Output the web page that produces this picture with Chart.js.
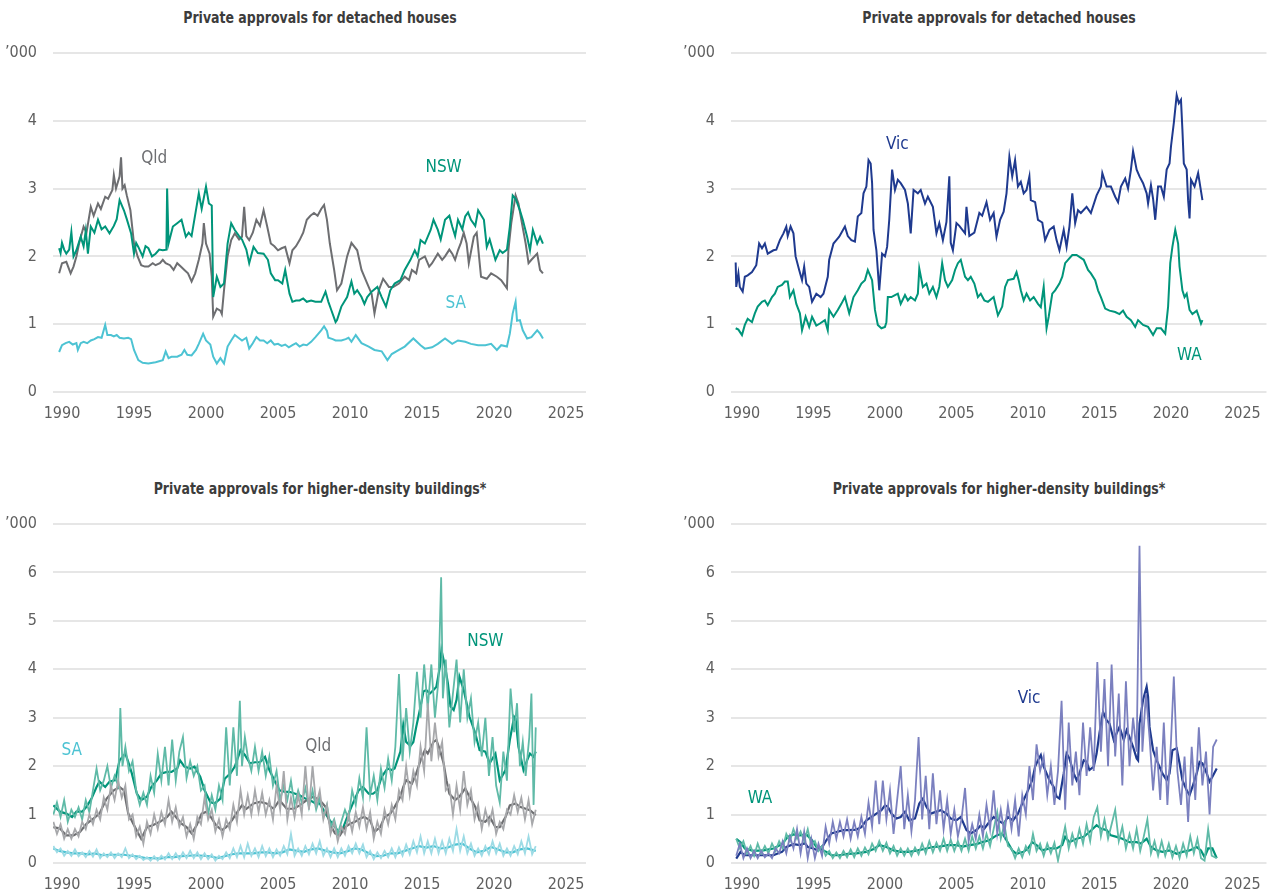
<!DOCTYPE html>
<html><head><meta charset="utf-8">
<script src="https://cdn.jsdelivr.net/npm/chart.js@4.4.0/dist/chart.umd.min.js"></script>
<style>
html,body{margin:0;padding:0;background:#fff;width:1273px;height:895px;overflow:hidden}
canvas{position:absolute}
.title{position:absolute;font-family:'Liberation Sans Narrow','Arial Narrow','DejaVu Sans Condensed',sans-serif;font-weight:bold;font-size:16px;color:#3c3c3c;white-space:nowrap;transform:translate(-50%,-50%) scaleX(0.87)}
</style></head><body>
<div class="title" style="left:320px;top:17px">Private approvals for detached houses</div>
<div class="title" style="left:999px;top:17px">Private approvals for detached houses</div>
<div class="title" style="left:320px;top:488px">Private approvals for higher-density buildings*</div>
<div class="title" style="left:999px;top:488px">Private approvals for higher-density buildings*</div>
<canvas id="c1" width="636" height="447" style="left:0;top:0"></canvas>
<canvas id="c2" width="637" height="447" style="left:636px;top:0"></canvas>
<canvas id="c3" width="636" height="448" style="left:0;top:447px"></canvas>
<canvas id="c4" width="637" height="448" style="left:636px;top:447px"></canvas>
<script>
const FONT = "'Liberation Sans Narrow','Arial Narrow','DejaVu Sans Condensed',sans-serif";
const xTickYears = [1990,1995,2000,2005,2010,2015,2020,2025];

// ---- Detached houses ('000), [year, value] ----
const nswHouse = [[1989.8,2.12],[1989.9,2.05],[1990.0,2.2],[1990.15,2.1],[1990.3,2.04],[1990.5,2.1],[1990.65,2.36],[1990.8,2.0],[1991.0,2.09],[1991.3,2.29],[1991.5,2.15],[1991.65,2.38],[1991.8,2.04],[1992.0,2.44],[1992.25,2.35],[1992.5,2.54],[1992.75,2.4],[1993.0,2.44],[1993.3,2.34],[1993.6,2.45],[1993.8,2.55],[1994.0,2.83],[1994.3,2.68],[1994.5,2.55],[1994.8,2.34],[1995.0,2.04],[1995.15,2.2],[1995.3,2.14],[1995.6,2.0],[1995.8,2.15],[1996.0,2.12],[1996.25,2.0],[1996.5,2.04],[1996.75,2.1],[1997.0,2.09],[1997.25,2.1],[1997.3,3.0],[1997.4,2.19],[1997.7,2.44],[1998.0,2.49],[1998.3,2.54],[1998.6,2.29],[1998.8,2.35],[1999.0,2.3],[1999.3,2.68],[1999.5,2.93],[1999.7,2.7],[2000.0,3.03],[2000.2,2.78],[2000.4,2.75],[2000.5,1.4],[2000.75,1.7],[2001.0,1.55],[2001.25,1.6],[2001.5,2.19],[2001.75,2.49],[2002.0,2.39],[2002.3,2.3],[2002.5,2.25],[2002.8,2.1],[2003.0,1.9],[2003.3,2.14],[2003.6,2.05],[2004.0,2.04],[2004.3,1.95],[2004.5,1.75],[2004.8,1.65],[2005.0,1.65],[2005.3,1.6],[2005.5,1.8],[2005.8,1.45],[2006.0,1.33],[2006.25,1.35],[2006.5,1.35],[2006.75,1.38],[2007.0,1.33],[2007.3,1.35],[2007.6,1.33],[2008.0,1.33],[2008.3,1.48],[2008.5,1.33],[2008.7,1.21],[2009.0,1.03],[2009.1,1.06],[2009.4,1.26],[2009.8,1.4],[2010.1,1.63],[2010.3,1.45],[2010.5,1.5],[2010.8,1.4],[2011.0,1.3],[2011.2,1.4],[2011.5,1.48],[2011.9,1.55],[2012.2,1.4],[2012.5,1.26],[2012.8,1.5],[2013.1,1.6],[2013.5,1.65],[2013.8,1.8],[2014.2,1.95],[2014.5,2.09],[2014.7,2.0],[2014.9,2.24],[2015.2,2.19],[2015.6,2.39],[2015.8,2.54],[2016.1,2.39],[2016.3,2.25],[2016.6,2.54],[2016.9,2.6],[2017.1,2.44],[2017.3,2.3],[2017.5,2.54],[2017.8,2.4],[2018.0,2.59],[2018.2,2.65],[2018.4,2.54],[2018.7,2.45],[2018.9,2.68],[2019.3,2.54],[2019.5,2.14],[2019.7,2.25],[2020.1,1.95],[2020.4,2.09],[2020.6,2.05],[2020.9,2.1],[2021.1,2.44],[2021.3,2.9],[2021.5,2.85],[2021.8,2.68],[2022.0,2.54],[2022.3,2.29],[2022.5,2.09],[2022.7,2.39],[2023.0,2.19],[2023.2,2.29],[2023.4,2.19]];
const qldHouse = [[1989.8,1.75],[1990.0,1.9],[1990.3,1.92],[1990.6,1.75],[1990.8,1.85],[1991.0,2.0],[1991.2,2.2],[1991.5,2.44],[1991.7,2.35],[1992.0,2.73],[1992.2,2.6],[1992.5,2.78],[1992.7,2.7],[1993.0,2.88],[1993.2,2.85],[1993.5,2.98],[1993.6,3.2],[1993.75,3.0],[1994.0,3.18],[1994.1,3.46],[1994.2,3.0],[1994.35,3.05],[1994.5,2.9],[1994.75,2.68],[1995.0,2.19],[1995.25,2.0],[1995.5,1.87],[1995.75,1.85],[1996.0,1.85],[1996.3,1.9],[1996.5,1.87],[1996.8,1.9],[1997.0,1.95],[1997.2,1.9],[1997.5,1.87],[1997.75,1.8],[1998.0,1.9],[1998.25,1.85],[1998.5,1.8],[1998.75,1.75],[1999.0,1.63],[1999.25,1.75],[1999.5,1.95],[1999.75,2.19],[1999.85,2.49],[2000.0,2.19],[2000.25,2.04],[2000.4,1.7],[2000.5,1.11],[2000.75,1.23],[2001.0,1.2],[2001.1,1.15],[2001.25,1.5],[2001.5,2.0],[2001.75,2.24],[2002.0,2.34],[2002.3,2.25],[2002.5,2.29],[2002.65,2.73],[2002.8,2.3],[2003.0,2.24],[2003.25,2.35],[2003.5,2.54],[2003.75,2.45],[2004.0,2.68],[2004.25,2.44],[2004.5,2.19],[2004.75,2.15],[2005.0,2.09],[2005.25,2.12],[2005.5,2.14],[2005.8,1.9],[2006.0,2.09],[2006.25,2.15],[2006.5,2.24],[2006.75,2.35],[2007.0,2.54],[2007.25,2.6],[2007.5,2.64],[2007.75,2.6],[2008.0,2.7],[2008.2,2.76],[2008.4,2.54],[2008.6,2.19],[2008.9,1.8],[2009.1,1.5],[2009.4,1.6],[2009.8,2.0],[2010.1,2.2],[2010.5,2.09],[2010.8,1.8],[2011.2,1.6],[2011.5,1.45],[2011.7,1.16],[2012.0,1.5],[2012.3,1.67],[2012.7,1.55],[2013.0,1.55],[2013.4,1.6],[2013.8,1.7],[2014.1,1.65],[2014.3,1.8],[2014.6,1.75],[2014.8,1.95],[2015.2,2.0],[2015.5,1.85],[2015.7,1.9],[2016.1,2.04],[2016.4,1.95],[2016.6,2.0],[2016.9,2.1],[2017.1,2.04],[2017.3,1.95],[2017.5,2.09],[2017.7,2.2],[2017.9,2.35],[2018.1,2.19],[2018.25,1.9],[2018.6,2.29],[2018.8,2.35],[2019.1,1.7],[2019.5,1.67],[2019.8,1.75],[2020.2,1.7],[2020.5,1.65],[2020.9,1.53],[2021.0,2.09],[2021.2,2.49],[2021.5,2.9],[2021.7,2.78],[2021.9,2.54],[2022.2,2.19],[2022.4,1.9],[2022.6,1.95],[2023.0,2.04],[2023.2,1.8],[2023.4,1.75]];
const saHouse = [[1989.8,0.59],[1990.0,0.69],[1990.25,0.72],[1990.5,0.74],[1990.75,0.7],[1991.0,0.72],[1991.1,0.62],[1991.3,0.72],[1991.5,0.74],[1991.75,0.72],[1992.0,0.76],[1992.25,0.78],[1992.5,0.81],[1992.75,0.8],[1993.0,0.99],[1993.15,0.84],[1993.4,0.84],[1993.6,0.82],[1993.8,0.84],[1994.0,0.8],[1994.3,0.79],[1994.6,0.8],[1994.8,0.78],[1995.0,0.62],[1995.3,0.47],[1995.6,0.43],[1996.0,0.42],[1996.5,0.44],[1997.0,0.47],[1997.2,0.6],[1997.4,0.5],[1997.6,0.52],[1998.0,0.52],[1998.3,0.55],[1998.5,0.62],[1998.7,0.55],[1999.0,0.54],[1999.3,0.62],[1999.5,0.71],[1999.8,0.86],[2000.0,0.76],[2000.3,0.7],[2000.5,0.52],[2000.75,0.42],[2001.0,0.5],[2001.25,0.42],[2001.5,0.67],[2001.75,0.76],[2002.0,0.84],[2002.25,0.8],[2002.5,0.76],[2002.8,0.8],[2003.0,0.64],[2003.25,0.72],[2003.5,0.81],[2003.75,0.76],[2004.0,0.76],[2004.25,0.72],[2004.5,0.76],[2004.75,0.7],[2005.0,0.71],[2005.25,0.68],[2005.5,0.7],[2005.75,0.66],[2006.0,0.69],[2006.25,0.72],[2006.5,0.67],[2006.75,0.7],[2007.0,0.69],[2007.3,0.74],[2007.6,0.81],[2008.0,0.91],[2008.2,0.97],[2008.4,0.9],[2008.5,0.8],[2008.8,0.78],[2009.0,0.76],[2009.4,0.76],[2009.7,0.78],[2009.9,0.8],[2010.1,0.74],[2010.4,0.84],[2010.8,0.72],[2011.3,0.67],[2011.7,0.62],[2012.2,0.6],[2012.6,0.47],[2012.9,0.56],[2013.4,0.62],[2013.8,0.67],[2014.4,0.79],[2014.9,0.69],[2015.2,0.64],[2015.7,0.66],[2016.1,0.71],[2016.6,0.79],[2017.1,0.71],[2017.5,0.76],[2018.0,0.74],[2018.4,0.71],[2018.9,0.69],[2019.4,0.69],[2019.8,0.71],[2020.2,0.62],[2020.5,0.69],[2020.9,0.67],[2021.1,0.86],[2021.3,1.16],[2021.5,1.33],[2021.6,1.05],[2021.8,1.06],[2022.0,0.91],[2022.3,0.79],[2022.6,0.81],[2023.0,0.91],[2023.2,0.86],[2023.4,0.79]];
const vicHouse = [[1989.56,1.91],[1989.6,1.55],[1989.75,1.75],[1989.85,1.55],[1990.05,1.48],[1990.2,1.7],[1990.4,1.72],[1990.7,1.77],[1991.0,1.87],[1991.2,2.19],[1991.4,2.12],[1991.6,2.19],[1991.8,2.04],[1992.2,2.09],[1992.4,2.1],[1992.65,2.24],[1992.9,2.34],[1993.1,2.44],[1993.2,2.3],[1993.4,2.44],[1993.6,2.34],[1993.75,2.0],[1994.0,1.8],[1994.2,1.65],[1994.35,1.85],[1994.5,1.6],[1994.7,1.55],[1994.9,1.33],[1995.2,1.45],[1995.5,1.4],[1995.7,1.45],[1996.0,1.7],[1996.1,1.95],[1996.4,2.19],[1996.6,2.24],[1996.8,2.29],[1997.2,2.44],[1997.4,2.3],[1997.65,2.24],[1997.9,2.22],[1998.1,2.59],[1998.35,2.64],[1998.5,2.93],[1998.7,3.03],[1998.85,3.42],[1999.0,3.37],[1999.1,3.08],[1999.2,2.39],[1999.4,2.09],[1999.5,1.8],[1999.6,1.5],[1999.8,2.04],[2000.0,2.0],[2000.15,2.14],[2000.3,2.54],[2000.5,3.28],[2000.7,2.98],[2000.9,3.13],[2001.1,3.08],[2001.4,2.98],[2001.6,2.78],[2001.8,2.34],[2002.0,2.98],[2002.3,2.93],[2002.5,2.98],[2002.8,2.78],[2003.0,2.88],[2003.35,2.73],[2003.6,2.34],[2003.8,2.49],[2004.05,2.24],[2004.3,2.51],[2004.5,3.18],[2004.6,2.2],[2004.75,2.09],[2005.0,2.49],[2005.2,2.45],[2005.6,2.34],[2005.7,2.73],[2005.9,2.3],[2006.25,2.35],[2006.6,2.64],[2006.8,2.6],[2007.1,2.8],[2007.35,2.54],[2007.6,2.64],[2007.8,2.29],[2008.05,2.54],[2008.3,2.66],[2008.5,2.93],[2008.7,3.47],[2008.9,3.18],[2009.1,3.42],[2009.3,3.03],[2009.5,3.1],[2009.7,2.93],[2009.9,2.98],[2010.1,3.18],[2010.2,2.83],[2010.5,2.8],[2010.7,2.54],[2011.0,2.5],[2011.2,2.24],[2011.5,2.39],[2011.8,2.44],[2012.0,2.24],[2012.2,2.09],[2012.5,2.39],[2012.7,2.14],[2012.9,2.44],[2013.1,2.93],[2013.3,2.49],[2013.5,2.68],[2013.7,2.64],[2014.1,2.73],[2014.4,2.64],[2014.8,2.9],[2015.1,3.03],[2015.2,3.23],[2015.5,3.03],[2015.8,3.03],[2016.1,2.88],[2016.3,2.8],[2016.5,3.03],[2016.8,3.15],[2017.0,3.0],[2017.2,3.28],[2017.35,3.55],[2017.6,3.28],[2017.8,3.18],[2018.05,3.08],[2018.3,2.93],[2018.4,2.78],[2018.6,3.05],[2018.75,2.85],[2018.9,2.54],[2019.1,3.03],[2019.3,3.03],[2019.5,2.88],[2019.7,3.28],[2019.9,3.37],[2020.0,3.62],[2020.2,3.97],[2020.4,4.38],[2020.55,4.26],[2020.7,4.31],[2020.8,3.87],[2020.9,3.37],[2021.1,3.28],[2021.2,2.83],[2021.3,2.56],[2021.4,3.13],[2021.65,3.03],[2021.9,3.23],[2022.05,3.03],[2022.2,2.83]];
const waHouse = [[1989.56,0.94],[1989.75,0.92],[1990.0,0.84],[1990.2,0.99],[1990.4,1.08],[1990.7,1.03],[1990.9,1.16],[1991.1,1.26],[1991.4,1.33],[1991.6,1.35],[1991.8,1.28],[1992.1,1.4],[1992.3,1.45],[1992.5,1.55],[1992.8,1.58],[1993.0,1.63],[1993.2,1.63],[1993.35,1.4],[1993.6,1.5],[1993.8,1.3],[1994.05,1.16],[1994.2,0.91],[1994.45,1.11],[1994.7,0.96],[1994.9,1.11],[1995.2,0.98],[1995.45,1.01],[1995.8,1.06],[1996.0,0.91],[1996.1,1.21],[1996.4,1.11],[1996.7,1.21],[1996.95,1.3],[1997.2,1.4],[1997.5,1.16],[1997.8,1.4],[1998.1,1.5],[1998.35,1.6],[1998.6,1.65],[1998.8,1.8],[1998.9,1.75],[1999.1,1.65],[1999.3,1.21],[1999.5,0.99],[1999.75,0.94],[2000.0,0.96],[2000.1,1.03],[2000.2,1.4],[2000.45,1.4],[2000.7,1.43],[2000.9,1.45],[2001.1,1.3],[2001.4,1.43],[2001.6,1.35],[2001.8,1.4],[2002.1,1.35],[2002.3,1.45],[2002.4,1.82],[2002.65,1.55],[2002.9,1.6],[2003.1,1.45],[2003.35,1.55],[2003.6,1.4],[2003.8,1.55],[2004.0,1.9],[2004.2,1.65],[2004.4,1.55],[2004.7,1.65],[2004.9,1.8],[2005.1,1.9],[2005.3,1.95],[2005.6,1.7],[2005.8,1.65],[2006.0,1.7],[2006.25,1.6],[2006.5,1.4],[2006.7,1.45],[2006.95,1.35],[2007.2,1.33],[2007.6,1.4],[2007.9,1.13],[2008.2,1.26],[2008.4,1.55],[2008.6,1.65],[2009.0,1.67],[2009.2,1.77],[2009.35,1.65],[2009.5,1.5],[2009.7,1.35],[2009.9,1.45],[2010.15,1.35],[2010.4,1.4],[2010.7,1.3],[2010.9,1.25],[2011.1,1.55],[2011.2,1.25],[2011.3,0.94],[2011.45,1.11],[2011.7,1.45],[2011.9,1.5],[2012.2,1.6],[2012.4,1.7],[2012.6,1.9],[2012.8,1.95],[2013.1,2.02],[2013.4,2.02],[2013.75,1.97],[2013.9,1.95],[2014.2,1.8],[2014.4,1.75],[2014.7,1.65],[2014.9,1.5],[2015.1,1.4],[2015.4,1.23],[2015.7,1.2],[2016.1,1.18],[2016.4,1.15],[2016.65,1.2],[2016.9,1.11],[2017.2,1.06],[2017.5,0.96],[2017.7,1.06],[2018.05,0.99],[2018.4,0.96],[2018.75,0.84],[2019.0,0.94],[2019.3,0.94],[2019.6,0.86],[2019.8,1.26],[2019.95,1.9],[2020.1,2.14],[2020.3,2.39],[2020.5,2.19],[2020.6,1.85],[2020.8,1.5],[2020.95,1.4],[2021.1,1.45],[2021.3,1.21],[2021.5,1.15],[2021.8,1.2],[2021.95,1.11],[2022.1,1.01],[2022.2,1.06]];

// ---- Higher-density ('000): monthly (raw) and trend ----
const nswDenseRaw = [[1989.4,1.0],[1989.65,1.25],[1989.9,0.95],[1990.15,1.3],[1990.4,0.85],[1990.65,1.1],[1990.9,0.95],[1991.15,1.15],[1991.4,0.9],[1991.65,1.3],[1991.9,1.05],[1992.15,1.5],[1992.4,1.95],[1992.65,1.5],[1992.9,1.7],[1993.15,2.0],[1993.4,1.55],[1993.65,1.8],[1993.9,1.6],[1994.05,3.2],[1994.2,2.0],[1994.4,2.4],[1994.65,1.9],[1994.9,2.1],[1995.15,1.5],[1995.4,1.2],[1995.65,1.45],[1995.9,1.2],[1996.15,1.8],[1996.4,1.45],[1996.65,2.25],[1996.9,1.7],[1997.15,2.4],[1997.4,1.6],[1997.65,2.55],[1997.9,1.7],[1998.15,2.3],[1998.4,2.6],[1998.65,1.75],[1998.9,2.1],[1999.15,1.8],[1999.4,2.0],[1999.65,1.5],[1999.9,1.6],[2000.15,1.0],[2000.4,1.4],[2000.65,1.1],[2000.9,1.6],[2001.15,1.3],[2001.4,2.8],[2001.65,1.6],[2001.9,2.8],[2002.15,1.8],[2002.35,3.35],[2002.5,2.0],[2002.7,2.6],[2002.9,2.2],[2003.15,1.9],[2003.4,2.4],[2003.65,1.9],[2003.9,2.3],[2004.15,1.8],[2004.4,2.2],[2004.65,1.6],[2004.9,1.9],[2005.15,1.3],[2005.4,1.6],[2005.65,1.3],[2005.9,1.7],[2006.15,1.2],[2006.4,1.5],[2006.65,1.25],[2006.9,1.55],[2007.15,1.15],[2007.4,1.5],[2007.65,1.1],[2007.9,1.35],[2008.15,0.95],[2008.4,1.2],[2008.65,0.75],[2008.9,0.9],[2009.15,0.6],[2009.4,0.85],[2009.65,1.1],[2009.9,0.9],[2010.15,1.5],[2010.4,1.2],[2010.65,1.75],[2010.9,1.35],[2011.15,2.8],[2011.4,1.4],[2011.65,1.8],[2011.9,1.3],[2012.15,1.95],[2012.4,1.55],[2012.65,2.15],[2012.9,1.7],[2013.15,2.4],[2013.4,3.9],[2013.65,2.1],[2013.9,3.2],[2014.15,2.3],[2014.4,2.9],[2014.65,3.95],[2014.9,3.0],[2015.15,4.1],[2015.4,3.2],[2015.65,4.1],[2015.9,3.0],[2016.15,3.8],[2016.33,5.9],[2016.45,3.4],[2016.65,4.2],[2016.9,2.8],[2017.15,3.5],[2017.4,4.2],[2017.65,2.9],[2017.9,4.0],[2018.15,3.0],[2018.4,3.4],[2018.65,2.5],[2018.9,2.9],[2019.15,2.2],[2019.4,3.0],[2019.65,1.8],[2019.9,2.6],[2020.15,1.6],[2020.4,1.25],[2020.65,2.3],[2020.9,1.7],[2021.15,3.6],[2021.4,2.7],[2021.6,3.3],[2021.8,2.0],[2022.0,2.5],[2022.2,1.8],[2022.45,2.6],[2022.6,3.5],[2022.75,1.2],[2022.9,2.8]];
const nswDenseTrend = [[1989.4,1.19],[1989.86,1.06],[1990.3,1.02],[1990.7,0.95],[1991.0,1.06],[1991.4,1.06],[1991.7,1.16],[1992.05,1.33],[1992.4,1.57],[1992.6,1.68],[1993.0,1.57],[1993.3,1.68],[1993.7,1.71],[1994.0,2.12],[1994.4,2.26],[1994.6,2.09],[1994.85,1.85],[1995.2,1.43],[1995.5,1.3],[1995.9,1.37],[1996.2,1.57],[1996.6,1.71],[1996.9,1.85],[1997.3,1.88],[1997.6,1.88],[1998.0,1.95],[1998.2,2.12],[1998.5,1.99],[1998.9,1.95],[1999.2,1.99],[1999.6,1.78],[1999.9,1.5],[2000.3,1.26],[2000.6,1.23],[2001.0,1.33],[2001.3,1.74],[2001.7,1.85],[2002.0,1.99],[2002.4,2.33],[2002.7,2.23],[2003.05,2.06],[2003.4,2.08],[2003.75,2.08],[2004.1,2.19],[2004.4,1.92],[2004.8,1.68],[2005.1,1.5],[2005.5,1.47],[2005.8,1.47],[2006.2,1.43],[2006.5,1.4],[2006.9,1.33],[2007.2,1.3],[2007.6,1.23],[2007.9,1.23],[2008.3,1.02],[2008.6,0.88],[2008.96,0.74],[2009.3,0.61],[2009.5,0.71],[2009.9,1.02],[2010.2,1.23],[2010.6,1.5],[2010.9,1.57],[2011.3,1.43],[2011.6,1.43],[2011.9,1.5],[2012.2,1.78],[2012.6,1.95],[2012.9,1.92],[2013.1,1.95],[2013.5,2.3],[2013.7,2.85],[2013.9,2.5],[2014.2,2.42],[2014.4,2.5],[2014.6,2.81],[2014.9,3.23],[2015.1,3.54],[2015.3,3.57],[2015.55,3.5],[2015.8,3.57],[2016.0,3.64],[2016.25,4.06],[2016.35,4.4],[2016.6,4.06],[2016.8,3.71],[2016.98,3.23],[2017.2,3.16],[2017.4,3.37],[2017.6,3.85],[2017.9,3.57],[2018.1,3.3],[2018.3,3.02],[2018.7,2.68],[2019.0,2.33],[2019.4,2.3],[2019.7,2.06],[2020.1,2.26],[2020.4,1.71],[2020.8,1.92],[2021.1,2.54],[2021.4,3.02],[2021.5,2.98],[2021.7,2.4],[2022.05,1.92],[2022.3,2.12],[2022.5,2.26],[2022.75,2.19],[2022.9,2.3]];
const qldDenseRaw = [[1989.4,0.85],[1989.65,0.6],[1989.9,0.8],[1990.15,0.5],[1990.4,0.7],[1990.65,0.5],[1990.9,0.7],[1991.15,0.55],[1991.4,0.85],[1991.65,0.7],[1991.9,1.0],[1992.15,0.8],[1992.4,1.1],[1992.65,0.9],[1992.9,1.35],[1993.15,1.1],[1993.4,1.6],[1993.65,1.3],[1993.9,1.7],[1994.15,1.35],[1994.4,1.6],[1994.65,0.9],[1994.9,1.0],[1995.15,0.55],[1995.4,0.75],[1995.65,0.4],[1995.9,0.85],[1996.15,0.6],[1996.4,1.0],[1996.65,0.7],[1996.9,1.05],[1997.15,0.8],[1997.4,1.3],[1997.65,0.85],[1997.9,1.15],[1998.15,0.75],[1998.4,0.95],[1998.65,0.55],[1998.9,0.8],[1999.15,0.5],[1999.4,0.95],[1999.65,0.8],[1999.9,1.35],[2000.15,0.9],[2000.4,1.1],[2000.65,0.65],[2000.9,0.9],[2001.15,0.55],[2001.4,0.9],[2001.65,0.7],[2001.9,1.2],[2002.15,0.85],[2002.4,1.5],[2002.65,1.0],[2002.9,1.4],[2003.15,1.0],[2003.4,1.5],[2003.65,1.05],[2003.9,1.45],[2004.15,1.0],[2004.4,1.3],[2004.65,0.9],[2004.9,1.6],[2005.15,1.1],[2005.4,1.9],[2005.65,0.9],[2005.9,1.35],[2006.15,0.95],[2006.4,1.4],[2006.65,1.0],[2006.9,2.0],[2007.15,1.1],[2007.4,2.0],[2007.65,1.2],[2007.9,1.5],[2008.15,0.9],[2008.4,1.2],[2008.65,0.6],[2008.9,0.85],[2009.15,0.45],[2009.4,0.75],[2009.65,0.6],[2009.9,1.0],[2010.15,0.65],[2010.4,1.05],[2010.65,0.75],[2010.9,1.15],[2011.15,0.7],[2011.4,1.05],[2011.65,0.5],[2011.9,0.85],[2012.15,0.6],[2012.4,1.1],[2012.65,0.8],[2012.9,1.2],[2013.15,0.9],[2013.4,1.5],[2013.65,1.3],[2013.9,2.0],[2014.15,1.4],[2014.4,1.9],[2014.65,1.6],[2014.9,2.4],[2015.15,1.9],[2015.4,3.3],[2015.65,2.1],[2015.9,2.9],[2016.15,2.2],[2016.4,2.5],[2016.65,1.5],[2016.9,1.6],[2017.15,1.0],[2017.4,1.6],[2017.65,1.1],[2017.9,1.9],[2018.15,1.2],[2018.4,1.5],[2018.65,0.9],[2018.9,1.2],[2019.15,0.7],[2019.4,1.1],[2019.65,0.8],[2019.9,1.1],[2020.15,0.6],[2020.4,0.85],[2020.65,0.7],[2020.9,1.1],[2021.15,1.0],[2021.4,1.4],[2021.65,1.05],[2021.9,1.35],[2022.15,0.9],[2022.4,1.3],[2022.65,0.8],[2022.9,1.1]];
const qldDenseTrend = [[1989.4,0.74],[1989.86,0.71],[1990.3,0.57],[1990.8,0.57],[1991.25,0.64],[1991.7,0.81],[1992.2,0.92],[1992.6,1.02],[1993.1,1.33],[1993.6,1.5],[1994.0,1.57],[1994.3,1.5],[1994.6,1.02],[1994.95,0.81],[1995.3,0.61],[1995.5,0.5],[1995.9,0.74],[1996.3,0.78],[1996.8,0.85],[1997.3,0.95],[1997.6,1.06],[1998.0,0.92],[1998.3,0.81],[1998.65,0.74],[1999.0,0.61],[1999.35,0.78],[1999.7,1.02],[2000.05,1.06],[2000.4,0.92],[2000.7,0.78],[2001.1,0.68],[2001.4,0.74],[2001.8,0.88],[2002.1,1.02],[2002.5,1.19],[2002.8,1.12],[2003.3,1.23],[2003.75,1.26],[2004.2,1.23],[2004.7,1.12],[2005.1,1.3],[2005.6,1.12],[2006.1,1.12],[2006.5,1.19],[2007.0,1.3],[2007.45,1.37],[2007.9,1.3],[2008.3,1.16],[2008.6,0.81],[2008.96,0.61],[2009.3,0.57],[2009.65,0.74],[2010.0,0.81],[2010.35,0.85],[2010.7,0.92],[2011.0,0.95],[2011.4,0.88],[2011.7,0.64],[2012.1,0.74],[2012.4,0.95],[2012.8,1.02],[2013.1,1.16],[2013.5,1.37],[2013.7,1.57],[2013.9,1.71],[2014.3,1.64],[2014.6,1.85],[2014.95,2.16],[2015.2,2.33],[2015.4,2.26],[2015.8,2.5],[2016.0,2.54],[2016.25,2.33],[2016.5,2.06],[2016.7,1.71],[2016.9,1.43],[2017.3,1.3],[2017.6,1.37],[2018.0,1.54],[2018.3,1.37],[2018.7,1.16],[2019.0,0.88],[2019.4,0.85],[2019.7,0.95],[2020.1,0.74],[2020.4,0.74],[2020.8,0.95],[2021.1,1.19],[2021.5,1.23],[2021.8,1.16],[2022.2,1.12],[2022.5,1.09],[2022.9,0.99]];
const saDenseRaw = [[1989.4,0.35],[1989.65,0.22],[1989.9,0.3],[1990.15,0.15],[1990.4,0.25],[1990.65,0.15],[1990.9,0.28],[1991.15,0.14],[1991.4,0.22],[1991.65,0.12],[1991.9,0.25],[1992.15,0.13],[1992.4,0.28],[1992.65,0.1],[1992.9,0.2],[1993.15,0.12],[1993.4,0.22],[1993.65,0.1],[1993.9,0.2],[1994.15,0.12],[1994.4,0.3],[1994.65,0.1],[1994.9,0.18],[1995.15,0.08],[1995.4,0.15],[1995.65,0.06],[1995.9,0.12],[1996.15,0.05],[1996.4,0.14],[1996.65,0.05],[1996.9,0.15],[1997.15,0.07],[1997.4,0.2],[1997.65,0.08],[1997.9,0.2],[1998.15,0.08],[1998.4,0.22],[1998.65,0.1],[1998.9,0.25],[1999.15,0.1],[1999.4,0.22],[1999.65,0.08],[1999.9,0.2],[2000.15,0.08],[2000.4,0.18],[2000.65,0.05],[2000.9,0.15],[2001.15,0.08],[2001.4,0.22],[2001.65,0.1],[2001.9,0.3],[2002.15,0.12],[2002.4,0.35],[2002.65,0.12],[2002.9,0.4],[2003.15,0.15],[2003.4,0.3],[2003.65,0.12],[2003.9,0.35],[2004.15,0.14],[2004.4,0.3],[2004.65,0.12],[2004.9,0.28],[2005.15,0.15],[2005.4,0.35],[2005.65,0.18],[2005.9,0.6],[2006.15,0.15],[2006.4,0.3],[2006.65,0.15],[2006.9,0.35],[2007.15,0.18],[2007.4,0.4],[2007.65,0.2],[2007.9,0.45],[2008.15,0.15],[2008.4,0.3],[2008.65,0.12],[2008.9,0.3],[2009.15,0.12],[2009.4,0.3],[2009.65,0.15],[2009.9,0.35],[2010.15,0.2],[2010.4,0.4],[2010.65,0.2],[2010.9,0.38],[2011.15,0.12],[2011.4,0.25],[2011.65,0.08],[2011.9,0.22],[2012.15,0.1],[2012.4,0.25],[2012.65,0.12],[2012.9,0.3],[2013.15,0.12],[2013.4,0.32],[2013.65,0.15],[2013.9,0.38],[2014.15,0.18],[2014.4,0.45],[2014.65,0.22],[2014.9,0.55],[2015.15,0.2],[2015.4,0.45],[2015.65,0.2],[2015.9,0.5],[2016.15,0.2],[2016.4,0.45],[2016.65,0.2],[2016.9,0.5],[2017.15,0.25],[2017.4,0.7],[2017.65,0.25],[2017.9,0.55],[2018.15,0.2],[2018.4,0.4],[2018.65,0.15],[2018.9,0.3],[2019.15,0.15],[2019.4,0.35],[2019.65,0.18],[2019.9,0.45],[2020.15,0.2],[2020.4,0.4],[2020.65,0.15],[2020.9,0.3],[2021.15,0.15],[2021.4,0.35],[2021.65,0.18],[2021.9,0.45],[2022.15,0.2],[2022.4,0.55],[2022.65,0.18],[2022.9,0.35]];
const saDenseTrend = [[1989.4,0.3],[1989.8,0.25],[1990.3,0.22],[1990.8,0.2],[1991.3,0.2],[1991.8,0.18],[1992.3,0.2],[1992.8,0.16],[1993.3,0.17],[1993.8,0.17],[1994.3,0.17],[1994.8,0.15],[1995.3,0.13],[1995.8,0.1],[1996.3,0.1],[1996.8,0.09],[1997.3,0.12],[1997.8,0.12],[1998.3,0.14],[1998.8,0.15],[1999.3,0.16],[1999.8,0.15],[2000.3,0.14],[2000.8,0.1],[2001.3,0.14],[2001.8,0.18],[2002.3,0.2],[2002.8,0.2],[2003.3,0.2],[2003.8,0.22],[2004.3,0.22],[2004.8,0.2],[2005.3,0.22],[2005.8,0.28],[2006.3,0.25],[2006.8,0.23],[2007.3,0.28],[2007.8,0.3],[2008.3,0.25],[2008.8,0.22],[2009.3,0.2],[2009.8,0.24],[2010.3,0.3],[2010.8,0.28],[2011.3,0.2],[2011.8,0.14],[2012.3,0.15],[2012.8,0.2],[2013.3,0.2],[2013.8,0.25],[2014.3,0.3],[2014.8,0.35],[2015.3,0.32],[2015.8,0.35],[2016.3,0.3],[2016.8,0.32],[2017.3,0.38],[2017.8,0.4],[2018.3,0.3],[2018.8,0.22],[2019.3,0.25],[2019.8,0.33],[2020.3,0.28],[2020.8,0.22],[2021.3,0.22],[2021.8,0.28],[2022.3,0.3],[2022.9,0.25]];
const vicDenseRaw = [[1989.6,0.15],[1989.85,0.4],[1990.1,0.1],[1990.35,0.3],[1990.6,0.1],[1990.85,0.25],[1991.1,0.1],[1991.35,0.25],[1991.6,0.12],[1991.85,0.2],[1992.1,0.1],[1992.35,0.3],[1992.6,0.2],[1992.85,0.45],[1993.1,0.2],[1993.35,0.55],[1993.6,0.3],[1993.85,0.7],[1994.1,0.2],[1994.35,0.65],[1994.6,0.1],[1994.85,0.5],[1995.1,0.1],[1995.35,0.4],[1995.6,0.15],[1995.85,0.75],[1996.1,0.4],[1996.35,0.85],[1996.6,0.5],[1996.85,0.85],[1997.1,0.55],[1997.35,0.9],[1997.6,0.5],[1997.85,0.85],[1998.1,0.55],[1998.35,0.95],[1998.6,0.6],[1998.85,1.25],[1999.1,0.75],[1999.35,1.7],[1999.6,0.8],[1999.85,1.7],[2000.1,0.9],[2000.35,1.5],[2000.6,0.6],[2000.85,1.3],[2001.1,2.0],[2001.35,0.7],[2001.6,1.4],[2001.85,0.65],[2002.1,1.3],[2002.35,2.6],[2002.6,0.9],[2002.85,1.8],[2003.1,0.7],[2003.35,1.85],[2003.6,0.8],[2003.85,1.5],[2004.1,0.7],[2004.35,1.3],[2004.6,0.6],[2004.85,1.1],[2005.1,0.55],[2005.35,0.9],[2005.6,1.55],[2005.85,0.45],[2006.1,0.8],[2006.35,0.5],[2006.6,1.0],[2006.85,0.55],[2007.1,1.2],[2007.35,0.7],[2007.6,1.5],[2007.85,0.6],[2008.1,1.1],[2008.35,0.6],[2008.6,1.2],[2008.85,0.7],[2009.1,1.3],[2009.35,0.55],[2009.6,1.4],[2009.85,1.0],[2010.1,2.0],[2010.35,1.3],[2010.6,2.45],[2010.85,1.9],[2011.1,2.2],[2011.35,1.4],[2011.6,2.0],[2011.85,1.2],[2012.1,1.9],[2012.35,3.35],[2012.6,1.1],[2012.85,2.9],[2013.1,1.6],[2013.35,2.3],[2013.6,1.4],[2013.85,2.9],[2014.1,1.8],[2014.35,2.8],[2014.6,1.9],[2014.85,4.15],[2015.1,2.3],[2015.35,3.8],[2015.6,2.0],[2015.85,4.1],[2016.1,2.2],[2016.35,3.5],[2016.6,1.6],[2016.85,3.75],[2017.1,2.0],[2017.35,3.0],[2017.6,2.3],[2017.8,6.55],[2018.0,2.3],[2018.25,3.5],[2018.5,2.6],[2018.75,1.5],[2019.0,2.4],[2019.25,1.3],[2019.5,2.9],[2019.75,1.2],[2020.0,2.5],[2020.2,3.85],[2020.45,1.9],[2020.7,1.2],[2020.95,2.2],[2021.2,0.85],[2021.45,2.4],[2021.7,1.3],[2021.95,2.8],[2022.2,1.6],[2022.45,2.3],[2022.7,1.0],[2022.95,2.4],[2023.2,2.55]];
const vicDenseTrend = [[1989.6,0.09],[1989.9,0.23],[1990.2,0.16],[1990.8,0.16],[1991.5,0.16],[1992.2,0.16],[1992.8,0.23],[1993.1,0.33],[1993.6,0.39],[1994.05,0.37],[1994.4,0.41],[1994.6,0.33],[1995.0,0.3],[1995.3,0.26],[1995.7,0.37],[1995.9,0.47],[1996.25,0.61],[1996.6,0.64],[1997.1,0.68],[1997.5,0.68],[1998.0,0.69],[1998.35,0.74],[1998.7,0.88],[1999.05,0.95],[1999.4,1.02],[1999.75,1.09],[2000.0,1.19],[2000.2,1.16],[2000.45,1.02],[2000.8,0.92],[2001.1,0.95],[2001.4,1.06],[2001.7,0.88],[2002.1,0.92],[2002.4,1.23],[2002.65,1.33],[2002.9,1.16],[2003.2,1.02],[2003.6,1.06],[2003.9,1.09],[2004.3,1.02],[2004.6,0.92],[2005.0,0.88],[2005.3,0.95],[2005.7,0.68],[2006.0,0.61],[2006.4,0.68],[2006.7,0.78],[2006.95,0.71],[2007.2,0.81],[2007.6,0.95],[2007.9,0.88],[2008.3,0.81],[2008.6,0.95],[2008.95,0.88],[2009.3,1.02],[2009.7,1.3],[2010.0,1.5],[2010.3,1.71],[2010.5,1.99],[2010.7,2.12],[2010.9,2.23],[2011.1,1.99],[2011.3,1.85],[2011.5,1.71],[2011.8,1.57],[2012.0,1.37],[2012.2,1.33],[2012.5,1.85],[2012.7,2.26],[2012.9,2.16],[2013.2,1.85],[2013.4,1.71],[2013.6,1.85],[2013.9,2.12],[2014.1,2.09],[2014.3,1.92],[2014.6,1.99],[2014.8,2.26],[2015.0,2.68],[2015.25,3.12],[2015.5,2.95],[2015.7,2.88],[2016.0,2.54],[2016.2,2.68],[2016.4,2.81],[2016.7,2.54],[2016.9,2.74],[2017.1,2.6],[2017.35,2.4],[2017.6,2.16],[2017.7,2.12],[2017.8,2.88],[2018.05,3.37],[2018.3,3.64],[2018.4,3.43],[2018.5,2.81],[2018.75,2.33],[2019.0,2.12],[2019.2,1.99],[2019.4,1.85],[2019.7,1.71],[2019.9,1.85],[2020.1,2.33],[2020.4,2.37],[2020.6,2.06],[2020.8,1.71],[2021.1,1.5],[2021.3,1.4],[2021.5,1.57],[2021.8,1.85],[2022.0,2.09],[2022.2,2.06],[2022.5,1.85],[2022.7,1.68],[2022.9,1.78],[2023.2,1.95]];
const waDenseRaw = [[1989.6,0.5],[1989.85,0.3],[1990.1,0.45],[1990.35,0.2],[1990.6,0.35],[1990.85,0.15],[1991.1,0.4],[1991.35,0.2],[1991.6,0.35],[1991.85,0.2],[1992.1,0.4],[1992.35,0.25],[1992.6,0.45],[1992.85,0.3],[1993.1,0.6],[1993.35,0.45],[1993.6,0.7],[1993.85,0.5],[1994.1,0.65],[1994.35,0.45],[1994.6,0.7],[1994.85,0.35],[1995.1,0.45],[1995.35,0.25],[1995.6,0.35],[1995.85,0.15],[1996.1,0.25],[1996.35,0.1],[1996.6,0.22],[1996.85,0.1],[1997.1,0.25],[1997.35,0.12],[1997.6,0.28],[1997.85,0.12],[1998.1,0.3],[1998.35,0.15],[1998.6,0.32],[1998.85,0.18],[1999.1,0.4],[1999.35,0.25],[1999.6,0.45],[1999.85,0.25],[2000.1,0.42],[2000.35,0.2],[2000.6,0.35],[2000.85,0.15],[2001.1,0.3],[2001.35,0.15],[2001.6,0.3],[2001.85,0.15],[2002.1,0.32],[2002.35,0.18],[2002.6,0.4],[2002.85,0.2],[2003.1,0.45],[2003.35,0.22],[2003.6,0.42],[2003.85,0.25],[2004.1,0.5],[2004.35,0.25],[2004.6,0.48],[2004.85,0.25],[2005.1,0.45],[2005.35,0.25],[2005.6,0.5],[2005.85,0.25],[2006.1,0.55],[2006.35,0.3],[2006.6,0.55],[2006.85,0.3],[2007.1,0.6],[2007.35,0.35],[2007.6,0.7],[2007.85,1.05],[2008.1,0.5],[2008.35,0.8],[2008.6,0.35],[2008.85,0.3],[2009.1,0.1],[2009.35,0.3],[2009.6,0.12],[2009.85,0.35],[2010.1,0.2],[2010.35,0.6],[2010.6,0.25],[2010.85,0.4],[2011.1,0.15],[2011.35,0.4],[2011.6,0.2],[2011.85,0.42],[2012.1,0.05],[2012.35,0.4],[2012.6,0.75],[2012.85,0.3],[2013.1,0.6],[2013.35,0.35],[2013.6,0.7],[2013.85,0.4],[2014.1,0.8],[2014.35,0.45],[2014.6,0.95],[2014.85,1.15],[2015.1,0.55],[2015.35,0.9],[2015.6,0.5],[2015.85,0.8],[2016.1,1.1],[2016.35,0.45],[2016.6,0.75],[2016.85,0.3],[2017.1,0.6],[2017.35,0.3],[2017.6,0.7],[2017.85,0.25],[2018.1,0.55],[2018.35,0.9],[2018.6,0.2],[2018.85,0.45],[2019.1,0.15],[2019.35,0.45],[2019.6,0.15],[2019.85,0.4],[2020.1,0.12],[2020.35,0.35],[2020.6,0.1],[2020.85,0.4],[2021.1,0.15],[2021.35,0.55],[2021.6,0.2],[2021.85,0.5],[2022.1,0.1],[2022.35,0.05],[2022.6,0.7],[2022.85,0.15],[2023.2,0.1]];
const waDenseTrend = [[1989.6,0.5],[1989.9,0.43],[1990.2,0.3],[1990.8,0.25],[1991.5,0.26],[1992.2,0.3],[1992.8,0.39],[1993.2,0.54],[1993.6,0.59],[1994.05,0.57],[1994.5,0.59],[1994.9,0.47],[1995.2,0.33],[1995.55,0.28],[1995.9,0.23],[1996.25,0.16],[1996.8,0.16],[1997.4,0.19],[1998.0,0.2],[1998.7,0.23],[1999.3,0.3],[1999.6,0.37],[2000.1,0.33],[2000.6,0.26],[2001.1,0.23],[2001.7,0.23],[2002.3,0.26],[2002.9,0.3],[2003.35,0.33],[2003.8,0.34],[2004.4,0.37],[2005.0,0.37],[2005.45,0.34],[2005.9,0.37],[2006.4,0.39],[2006.8,0.43],[2007.3,0.47],[2007.8,0.57],[2008.2,0.61],[2008.5,0.47],[2008.9,0.26],[2009.2,0.19],[2009.7,0.23],[2010.0,0.3],[2010.3,0.43],[2010.6,0.37],[2011.0,0.26],[2011.5,0.3],[2012.0,0.3],[2012.4,0.37],[2012.6,0.54],[2012.9,0.43],[2013.4,0.5],[2013.9,0.54],[2014.3,0.64],[2014.8,0.78],[2015.1,0.71],[2015.5,0.68],[2015.8,0.57],[2016.2,0.54],[2016.6,0.5],[2017.1,0.43],[2017.6,0.43],[2017.9,0.4],[2018.3,0.5],[2018.6,0.33],[2019.0,0.26],[2019.4,0.23],[2019.9,0.26],[2020.4,0.19],[2020.8,0.23],[2021.3,0.26],[2021.8,0.33],[2022.1,0.26],[2022.35,0.12],[2022.6,0.3],[2022.9,0.3],[2023.2,0.1]];

const GREEN='#00957a', GREY='#6d6e71', CYAN='#4dc3d3', NAVY='#1f3a8f';
const GREEN_L='#5fbaa7', GREY_L='#a7a8ab', CYAN_L='#9ddbe5', NAVY_L='#7b80bf';

function ds(arr, color, width){
  return {data: arr.map(p=>({x:p[0], y:p[1]})), borderColor: color, borderWidth: width, pointRadius: 0, fill: false, tension: 0};
}
function labelPlugin(items){
  return {id:'seriesLabels', afterDatasetsDraw(chart){
    const {ctx, scales:{x, y}} = chart;
    ctx.save(); ctx.font = '17px ' + FONT; ctx.textAlign = 'center'; ctx.textBaseline = 'middle';
    items.forEach(it => { ctx.fillStyle = it.c; ctx.fillText(it.t, x.getPixelForValue(it.x), y.getPixelForValue(it.y)); });
    ctx.restore();
  }};
}
function makeChart(id, o){
  new Chart(document.getElementById(id), {
    type: 'line',
    data: {datasets: o.datasets},
    options: {
      responsive: false, animation: false, devicePixelRatio: 1,
      layout: {padding: {top: o.padTop, right: o.padRight, left: 0, bottom: 0}},
      plugins: {legend: {display: false}, tooltip: {enabled: false}, title: {display: false}},
      scales: {
        x: {type: 'linear', min: o.xMin, max: o.xMax,
            afterBuildTicks: s => { s.ticks = xTickYears.map(v => ({value: v})); },
            afterFit: s => { s.height = o.xAxisH; },
            grid: {display: false, drawTicks: false}, border: {display: false},
            ticks: {padding: 12, autoSkip: false, maxRotation: 0, color: '#5f5f5f', font: {family: FONT, size: 16}, callback: v => String(v)}},
        y: {type: 'linear', min: 0, max: o.yMax,
            afterBuildTicks: s => { const t = []; for (let v = 0; v <= o.yMax; v++) t.push({value: v}); s.ticks = t; },
            afterFit: s => { s.width = o.yAxisW; },
            grid: {color: '#e6e6e6', lineWidth: 2, drawTicks: false}, border: {display: false},
            ticks: {padding: 16, color: '#5f5f5f', font: {family: FONT, size: 16}, callback: v => v === o.yMax ? '\u2019000' : String(v)}}
      }
    },
    plugins: [labelPlugin(o.labels)]
  });
}

const leftX = {xMin: 1989.375, xMax: 2026.39, yAxisW: 53, padRight: 50};
const rightX = {xMin: 1989.233, xMax: 2026.68, yAxisW: 95, padRight: 5};

makeChart('c1', Object.assign({}, leftX, {padTop: 53, xAxisH: 55, yMax: 5,
  datasets: [ds(saHouse, CYAN, 2), ds(nswHouse, GREEN, 2), ds(qldHouse, GREY, 2)],
  labels: [{t:'Qld', x:1996.4, y:3.45, c:GREY}, {t:'NSW', x:2016.5, y:3.31, c:GREEN}, {t:'SA', x:2017.34, y:1.3, c:CYAN}]}));
makeChart('c2', Object.assign({}, rightX, {padTop: 53, xAxisH: 55, yMax: 5,
  datasets: [ds(waHouse, GREEN, 2), ds(vicHouse, NAVY, 2)],
  labels: [{t:'Vic', x:2000.86, y:3.65, c:NAVY}, {t:'WA', x:2021.29, y:0.53, c:GREEN}]}));
makeChart('c3', Object.assign({}, leftX, {padTop: 77, xAxisH: 32, yMax: 7,
  datasets: [ds(qldDenseRaw, GREY_L, 1.8), ds(nswDenseRaw, GREEN_L, 1.8), ds(saDenseRaw, CYAN_L, 1.8),
             ds(qldDenseTrend, GREY, 2.2), ds(nswDenseTrend, GREEN, 2.2), ds(saDenseTrend, CYAN, 2.2)],
  labels: [{t:'SA', x:1990.67, y:2.33, c:CYAN}, {t:'Qld', x:2007.8, y:2.4, c:GREY}, {t:'NSW', x:2019.4, y:4.57, c:GREEN}]}));
makeChart('c4', Object.assign({}, rightX, {padTop: 77, xAxisH: 32, yMax: 7,
  datasets: [ds(vicDenseRaw, NAVY_L, 1.8), ds(waDenseRaw, GREEN_L, 1.8), ds(vicDenseTrend, NAVY, 2.2), ds(waDenseTrend, GREEN, 2.2)],
  labels: [{t:'WA', x:1991.26, y:1.33, c:GREEN}, {t:'Vic', x:2010.08, y:3.4, c:NAVY}]}));
</script>
</body></html>
